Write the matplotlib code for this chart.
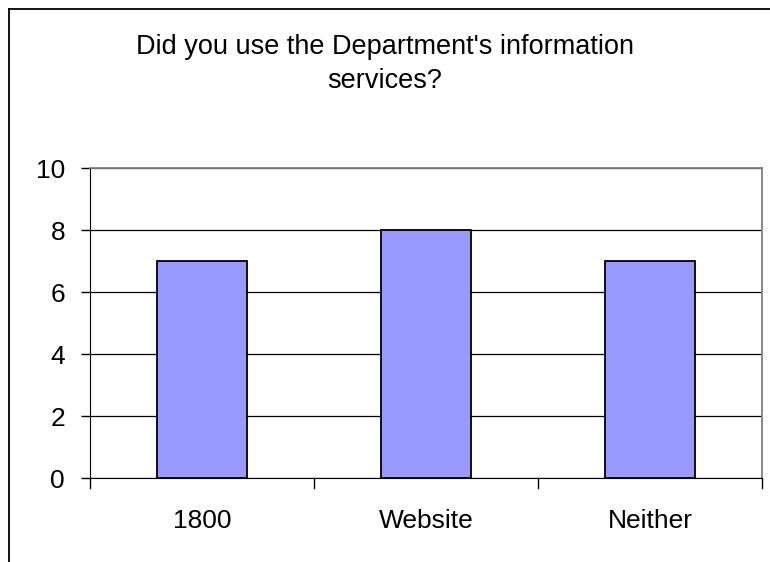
import matplotlib
matplotlib.use("Agg")
import matplotlib.pyplot as plt
from matplotlib.lines import Line2D

plt.rcParams['font.family'] = ['Liberation Sans', 'DejaVu Sans']

categories = ["1800", "Website", "Neither"]
counts = [7, 8, 7]
yticks = [0, 2, 4, 6, 8, 10]
title_lines = ["Did you use the Department's information", "services?"]

W, H = 770, 562
fig = plt.figure(figsize=(W / 100, H / 100), dpi=100)
fig.patch.set_facecolor("white")

# outer chart frame (left and top edges visible)
fig.add_artist(Line2D([9 / W, 9 / W], [0, 1 - 9 / H], transform=fig.transFigure,
                      color="black", lw=1.3))
fig.add_artist(Line2D([9 / W, 1], [1 - 9 / H, 1 - 9 / H], transform=fig.transFigure,
                      color="black", lw=1.3))

left, right, top, bottom = 90, 762, 168, 478
ax = fig.add_axes([left / W, 1 - bottom / H, (right - left) / W, (bottom - top) / H])

x = list(range(len(categories)))
ax.bar(x, counts, width=0.4, color="#9999FF", edgecolor="black", linewidth=1.3, zorder=3)

ax.set_xlim(-0.5, len(categories) - 0.5)
ax.set_ylim(0, 10)
ax.set_yticks(yticks)
ax.set_yticklabels([str(v) for v in yticks], fontsize=19)
ax.yaxis.grid(True, color="black", linewidth=0.9, zorder=0)
ax.set_axisbelow(True)

ax.set_xticks(x)
ax.set_xticklabels(categories, fontsize=19)
ax.tick_params(axis="x", length=0, pad=22)
ax.tick_params(axis="y", direction="out", length=6.5, width=1, pad=11.5)

# category boundary ticks on the x axis
for b in [-0.5, 0.5, 1.5, 2.5]:
    ax.plot([b, b], [0, -0.32], color="black", lw=1, clip_on=False, zorder=4)

for side in ["top", "right"]:
    ax.spines[side].set_color("#808080")
    ax.spines[side].set_linewidth(1.3)
ax.spines["left"].set_color("black")
ax.spines["bottom"].set_color("black")

fig.text(0.5, 1 - 47 / H, title_lines[0], ha="center", va="center", fontsize=19.5)
fig.text(0.5, 1 - 81 / H, title_lines[1], ha="center", va="center", fontsize=19.5)

fig.savefig("out.png", dpi=100)
